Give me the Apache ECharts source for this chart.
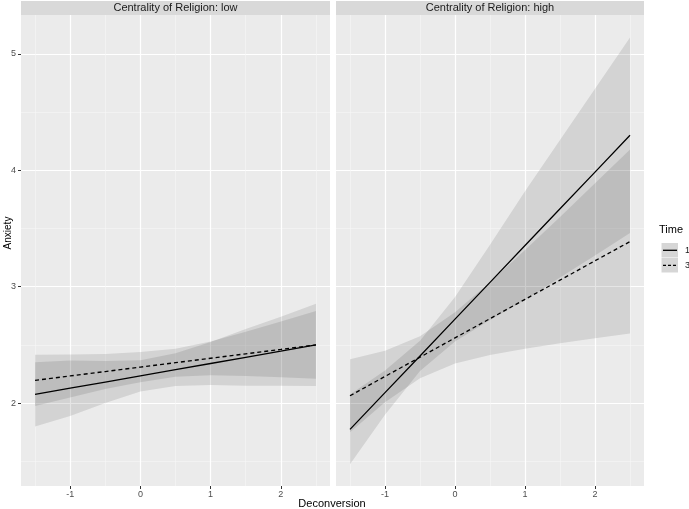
<!DOCTYPE html>
<html lang="en">
<head>
<meta charset="UTF-8">
<title>Anxiety by Deconversion</title>
<script src="https://cdn.jsdelivr.net/npm/echarts@6/dist/echarts.min.js"></script>
<style>
  html, body { margin: 0; padding: 0; background: #fff; }
  #chart { width: 689px; height: 509px; }
</style>
</head>
<body>
<div id="chart"></div>
<script>
// data
var deconv = [-1.5, -1, -0.5, 0, 0.5, 1, 1.5, 2, 2.5];
var xTicks = [-1, 0, 1, 2];
var xMinor = [-1.5, -0.5, 0.5, 1.5, 2.5];
var yTicks = [2, 3, 4, 5];
var yMinor = [1.5, 2.5, 3.5, 4.5];
var panelNames = ['Centrality of Religion: low', 'Centrality of Religion: high'];
var timeNames = ['1', '3'];

// centrality low
var lowT1   = [2.075, 2.128, 2.181, 2.234, 2.287, 2.340, 2.393, 2.446, 2.500];
var lowT1Lo = [1.800, 1.890, 2.000, 2.100, 2.146, 2.155, 2.150, 2.150, 2.146];
var lowT1Hi = [2.350, 2.366, 2.362, 2.368, 2.428, 2.525, 2.636, 2.742, 2.854];
var lowT3   = [2.195, 2.233, 2.271, 2.309, 2.347, 2.385, 2.423, 2.461, 2.500];
var lowT3Lo = [1.975, 2.048, 2.121, 2.179, 2.227, 2.240, 2.233, 2.221, 2.210];
var lowT3Hi = [2.415, 2.418, 2.421, 2.439, 2.467, 2.530, 2.613, 2.701, 2.790];

// centrality high
var highT1   = [1.774, 2.090, 2.405, 2.721, 3.037, 3.353, 3.669, 3.984, 4.300];
var highT1Lo = [1.474, 1.900, 2.275, 2.530, 2.714, 2.886, 3.078, 3.268, 3.460];
var highT1Hi = [2.074, 2.280, 2.535, 2.912, 3.360, 3.820, 4.260, 4.700, 5.140];
var highT3   = [2.063, 2.229, 2.394, 2.560, 2.725, 2.891, 3.056, 3.222, 3.387];
var highT3Lo = [1.750, 2.008, 2.214, 2.339, 2.412, 2.467, 2.513, 2.556, 2.597];
var highT3Hi = [2.376, 2.450, 2.574, 2.781, 3.038, 3.315, 3.599, 3.888, 4.177];

var panels = [
    {t1: lowT1, t1lo: lowT1Lo, t1hi: lowT1Hi, t3: lowT3, t3lo: lowT3Lo, t3hi: lowT3Hi},
    {t1: highT1, t1lo: highT1Lo, t1hi: highT1Hi, t3: highT3, t3lo: highT3Lo, t3hi: highT3Hi}
];

var FONT = 'Liberation Sans, Arial, sans-serif';
var XMIN = -1.7, XMAX = 2.7, YMIN = 1.288, YMAX = 5.333;
var gridBox = [{left: 21, width: 309}, {left: 336, width: 308}];

function pairs(ys) {
    return deconv.map(function (x, i) { return [x, ys[i]]; });
}

// confidence ribbon: one polygon, lower edge forward then upper edge back
function ribbon(lo, hi) {
    return function (params, api) {
        if (params.dataIndex !== 0) return null;
        var pts = [];
        for (var i = 0; i < deconv.length; i++) pts.push(api.coord([deconv[i], lo[i]]));
        for (var j = deconv.length - 1; j >= 0; j--) pts.push(api.coord([deconv[j], hi[j]]));
        return {type: 'polygon', shape: {points: pts}, style: {fill: 'rgba(0,0,0,0.1)'}, silent: true};
    };
}

var xAxes = [], yAxes = [], series = [], grids = [], graphics = [];

gridBox.forEach(function (g, p) {
    grids.push({left: g.left, width: g.width, top: 15, height: 471,
        backgroundColor: '#ebebeb', show: true, borderWidth: 0, outerBoundsMode: 'none'});

    // minor axes (grid lines only) then major axes
    xAxes.push({gridIndex: p, type: 'value', min: XMIN, max: XMAX, position: 'bottom',
        axisLine: {show: false, onZero: false}, axisLabel: {show: false},
        axisTick: {show: false, customValues: xMinor},
        splitLine: {show: true, lineStyle: {color: '#f7f7f7', width: 0.6}}});
    xAxes.push({gridIndex: p, type: 'value', min: XMIN, max: XMAX, position: 'bottom',
        axisLine: {show: false, onZero: false},
        axisTick: {show: true, length: 3, customValues: xTicks, lineStyle: {color: '#333', width: 1}},
        axisLabel: {customValues: xTicks, color: '#4d4d4d', fontSize: 9, margin: 4, fontFamily: FONT},
        splitLine: {show: true, lineStyle: {color: '#fff', width: 1.2}}});

    yAxes.push({gridIndex: p, type: 'value', min: YMIN, max: YMAX, position: 'left',
        axisLine: {show: false, onZero: false}, axisLabel: {show: false},
        axisTick: {show: false, customValues: yMinor},
        splitLine: {show: true, lineStyle: {color: '#f7f7f7', width: 0.6}}});
    yAxes.push({gridIndex: p, type: 'value', min: YMIN, max: YMAX, position: 'left',
        axisLine: {show: false, onZero: false},
        axisTick: {show: p === 0, length: 3, customValues: yTicks, lineStyle: {color: '#333', width: 1}},
        axisLabel: {show: p === 0, customValues: yTicks, color: '#4d4d4d', fontSize: 9, margin: 5, fontFamily: FONT},
        splitLine: {show: true, lineStyle: {color: '#fff', width: 1.2}}});

    var d = panels[p];
    var xi = p * 2 + 1, yi = p * 2 + 1;
    series.push({type: 'custom', xAxisIndex: xi, yAxisIndex: yi, silent: true, z: 1,
        data: pairs(d.t1lo), renderItem: ribbon(d.t1lo, d.t1hi)});
    series.push({type: 'custom', xAxisIndex: xi, yAxisIndex: yi, silent: true, z: 1,
        data: pairs(d.t3lo), renderItem: ribbon(d.t3lo, d.t3hi)});
    series.push({type: 'line', name: timeNames[0], xAxisIndex: xi, yAxisIndex: yi,
        data: pairs(d.t1), showSymbol: false, silent: true,
        lineStyle: {color: '#000', width: 1.3}, z: 3});
    series.push({type: 'line', name: timeNames[1], xAxisIndex: xi, yAxisIndex: yi,
        data: pairs(d.t3), showSymbol: false, silent: true,
        lineStyle: {color: '#000', width: 1.3, type: [4, 3]}, z: 3});

    // facet strip
    graphics.push({type: 'rect', left: g.left, top: 1, shape: {width: g.width, height: 14},
        style: {fill: '#d9d9d9'}, silent: true});
    graphics.push({type: 'text', x: g.left + g.width / 2, y: 8,
        style: {text: panelNames[p], fill: '#1a1a1a', font: '11px ' + FONT,
            align: 'center', verticalAlign: 'middle'}});
});

// axis titles
graphics.push({type: 'text', x: 8, y: 233, rotation: Math.PI / 2,
    style: {text: 'Anxiety', fill: '#000', font: '10px ' + FONT, align: 'center', verticalAlign: 'middle'}});
graphics.push({type: 'text', x: 332, y: 504,
    style: {text: 'Deconversion', fill: '#000', font: '11px ' + FONT, align: 'center', verticalAlign: 'middle'}});

// legend
graphics.push({type: 'text', x: 659, y: 230,
    style: {text: 'Time', fill: '#000', font: '11px ' + FONT, align: 'left', verticalAlign: 'middle'}});
timeNames.forEach(function (name, i) {
    var top = 243 + i * 15;
    graphics.push({type: 'rect', shape: {x: 661.5, y: top, width: 16.5, height: 14.5},
        style: {fill: '#d6d6d6'}, silent: true});
    graphics.push({type: 'line', shape: {x1: 663, y1: top + 7.3, x2: 677, y2: top + 7.3},
        style: {stroke: '#000', lineWidth: 1.3, lineDash: i === 0 ? null : [3, 2]}, silent: true});
    graphics.push({type: 'text', x: 685, y: top + 7.3,
        style: {text: name, fill: '#1a1a1a', font: '9px ' + FONT, align: 'left', verticalAlign: 'middle'}});
});

var chart = echarts.init(document.getElementById('chart'), null, {renderer: 'canvas'});
chart.setOption({
    animation: false,
    backgroundColor: '#fff',
    grid: grids,
    xAxis: xAxes,
    yAxis: yAxes,
    series: series,
    graphic: graphics
});
</script>
</body>
</html>
